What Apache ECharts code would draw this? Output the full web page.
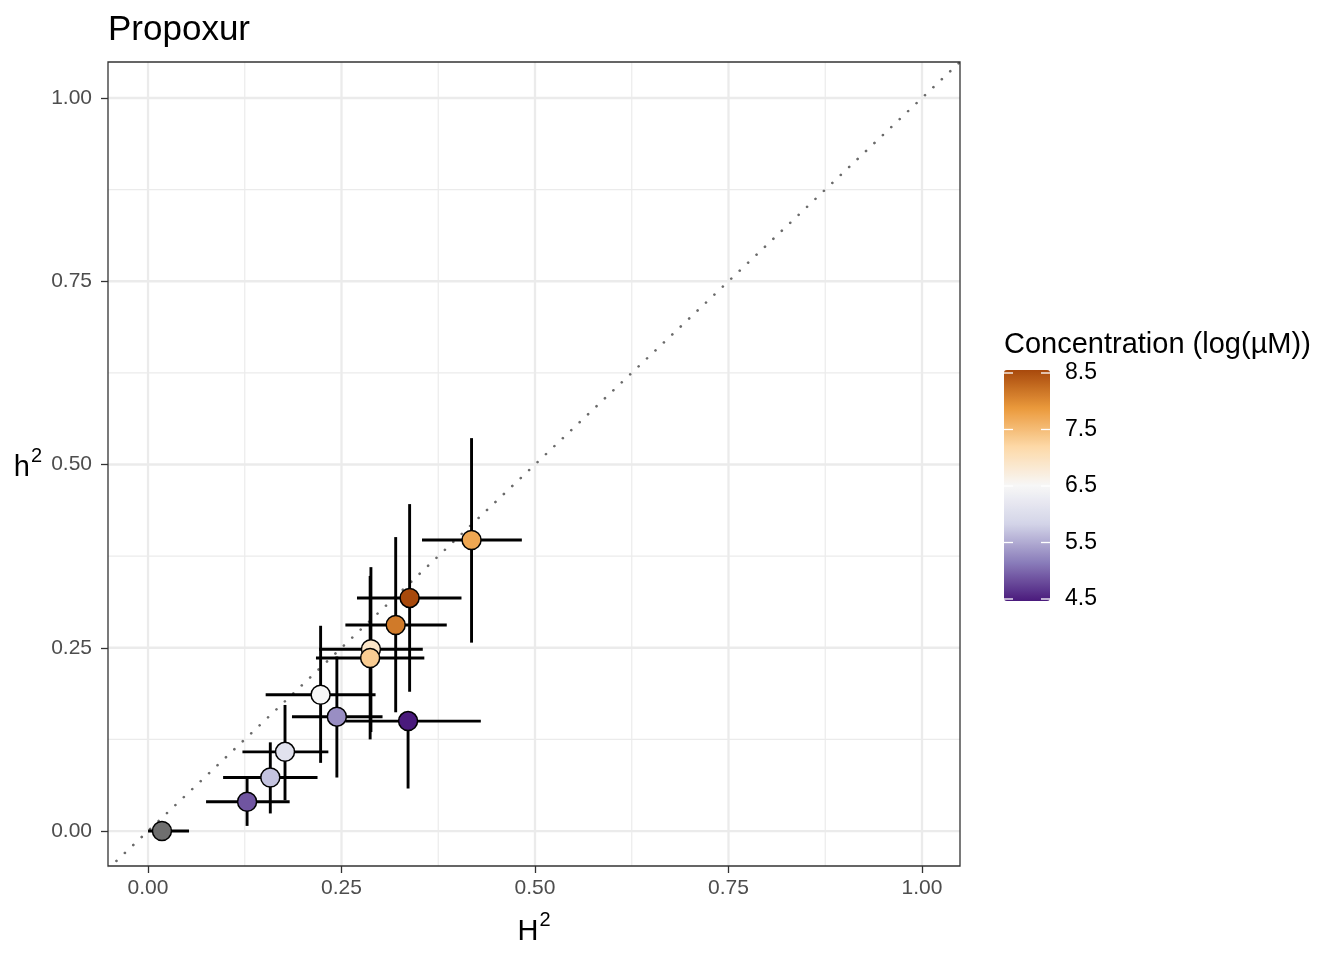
<!DOCTYPE html>
<html>
<head>
<meta charset="utf-8">
<script src="https://cdn.jsdelivr.net/npm/echarts@6/dist/echarts.min.js"></script>
<style>
  html, body { margin: 0; padding: 0; background: #fff; }
  #chart { width: 1344px; height: 960px; }
</style>
</head>
<body>
<div id="chart"></div>
<script>
// ---- data ----
const titleText = 'Propoxur';
const legendTitle = 'Concentration (log(µM))';
// broad-sense H2 (x) and narrow-sense h2 (y) with interval ends
const H2     = [0.018, 0.128, 0.158, 0.177, 0.223, 0.244, 0.336, 0.288, 0.287, 0.320, 0.338, 0.418];
const H2lo   = [0.000, 0.075, 0.097, 0.122, 0.152, 0.186, 0.255, 0.221, 0.217, 0.255, 0.270, 0.354];
const H2hi   = [0.053, 0.183, 0.219, 0.233, 0.294, 0.303, 0.430, 0.355, 0.357, 0.386, 0.405, 0.483];
const h2     = [0.000, 0.040, 0.073, 0.108, 0.186, 0.156, 0.150, 0.248, 0.236, 0.281, 0.318, 0.397];
const h2lo   = [0.000, 0.007, 0.024, 0.042, 0.093, 0.073, 0.058, 0.135, 0.125, 0.162, 0.190, 0.257];
const h2hi   = [0.000, 0.074, 0.121, 0.172, 0.280, 0.238, 0.160, 0.360, 0.348, 0.401, 0.446, 0.536];
// concentration (log µM); null = control (grey)
const conc   = [null, 4.9, 5.7, 6.1, 6.5, 5.3, 4.5, 6.9, 7.3, 8.1, 8.5, 7.7];

const axisTicks   = [0, 0.25, 0.5, 0.75, 1];
const minorTicks  = [0.125, 0.375, 0.625, 0.875];
const legendTicks = [4.5, 5.5, 6.5, 7.5, 8.5];
const concMin = 4.5, concMax = 8.5;
const paletteStops = ['#4a1a7c', '#8a7dba', '#d3d4e8', '#f7f7f7', '#fdd9a8', '#eb9a3c', '#a8490c'];

const xMin = -0.0517, xMax = 1.0491;
const yMin = -0.0477, yMax = 1.0491;

// ---- build series data ----
const FONT = "'Liberation Sans', Arial, Helvetica, sans-serif";
const errData = H2.map((v, i) => [v, h2[i], H2lo[i], H2hi[i], h2lo[i], h2hi[i]]);
const greyPts = [], colPts = [];
H2.forEach((v, i) => {
  if (conc[i] === null) greyPts.push([v, h2[i]]);
  else colPts.push([v, h2[i], conc[i]]);
});
const gridData = [];
axisTicks.forEach(v => { gridData.push([v, 0, 1]); gridData.push([v, 1, 1]); });
minorTicks.forEach(v => { gridData.push([v, 0, 0]); gridData.push([v, 1, 0]); });
const diag = [[xMin, xMin], [xMax, xMax]];
const legendTickData = legendTicks.map(v => [0, v]);

const chart = echarts.init(document.getElementById('chart'), null, { renderer: 'canvas' });

const supRich = {
  n: { fontSize: 29, lineHeight: 36, color: '#000', fontFamily: FONT, verticalAlign: 'bottom' },
  s: { fontSize: 20, lineHeight: 20, color: '#000', fontFamily: FONT, verticalAlign: 'top', padding: [0, 0, 0, 1] }
};

const option = {
  animation: false,
  backgroundColor: '#ffffff',
  textStyle: { fontFamily: FONT },
  title: {
    text: titleText, left: 103, top: 8,
    textStyle: { fontSize: 35, fontWeight: 'normal', color: '#000', fontFamily: FONT }
  },
  graphic: [{
    type: 'text', left: 1004, top: 330,
    style: { text: legendTitle, fontSize: 29, fill: '#000', fontFamily: FONT }
  }],
  grid: [
    { left: 108, top: 62, width: 852, height: 804, show: true, borderColor: '#333333', borderWidth: 1.3, backgroundColor: 'transparent', containLabel: false, outerBoundsMode: 'none', z: 5 },
    { left: 1004, top: 373, width: 46, height: 226, show: false, containLabel: false, outerBoundsMode: 'none' }
  ],
  xAxis: [
    {
      type: 'value', gridIndex: 0, min: xMin, max: xMax,
      name: '{n|H}{s|2}', nameLocation: 'middle', nameGap: 44,
      nameTextStyle: { rich: supRich },
      axisLine: { show: false, onZero: false },
      axisTick: { show: true, length: 7, lineStyle: { color: '#333', width: 1.3 }, customValues: axisTicks },
      axisLabel: { customValues: axisTicks, formatter: v => v.toFixed(2), fontSize: 21, color: '#4d4d4d', margin: 12, fontFamily: FONT },
      splitLine: { show: false }
    },
    { type: 'value', gridIndex: 1, min: 0, max: 1, show: false }
  ],
  yAxis: [
    {
      type: 'value', gridIndex: 0, min: yMin, max: yMax,
      name: '{n|h}{s|2}', nameLocation: 'middle', nameGap: 66, nameRotate: 0,
      nameTextStyle: { rich: supRich },
      axisLine: { show: false, onZero: false },
      axisTick: { show: true, length: 7, lineStyle: { color: '#333', width: 1.3 }, customValues: axisTicks },
      axisLabel: { customValues: axisTicks, formatter: v => v.toFixed(2), fontSize: 21, color: '#4d4d4d', margin: 16, fontFamily: FONT },
      splitLine: { show: false }
    },
    {
      type: 'value', gridIndex: 1, min: concMin, max: concMax, position: 'right',
      axisLine: { show: false, onZero: false },
      axisTick: { show: false },
      axisLabel: { customValues: legendTicks, formatter: v => v.toFixed(1), fontSize: 23, color: '#000', margin: 15, fontFamily: FONT, padding: [4, 0, 0, 0] },
      splitLine: { show: false }
    }
  ],
  visualMap: [{
    type: 'continuous', min: concMin, max: concMax, dimension: 2, seriesIndex: 4,
    inRange: { color: paletteStops },
    calculable: false, showLabel: false, hoverLink: false,
    itemWidth: 46, itemHeight: 231, left: 1004, top: 370, padding: 0, orient: 'vertical'
  }],
  series: [
    {
      type: 'custom', name: 'grid', xAxisIndex: 0, yAxisIndex: 0, z: 0, silent: true,
      data: gridData,
      renderItem: (params, api) => {
        const v = api.value(0), dir = api.value(1), major = api.value(2);
        const p1 = dir === 0 ? api.coord([v, yMin]) : api.coord([xMin, v]);
        const p2 = dir === 0 ? api.coord([v, yMax]) : api.coord([xMax, v]);
        return {
          type: 'line',
          shape: { x1: p1[0], y1: p1[1], x2: p2[0], y2: p2[1] },
          style: { stroke: '#ebebeb', lineWidth: major ? 2.3 : 1.2 }
        };
      }
    },
    {
      type: 'line', name: 'diag', xAxisIndex: 0, yAxisIndex: 0, z: 1, silent: true,
      data: diag, showSymbol: false, symbol: 'none', clip: true,
      lineStyle: { color: '#6a6a6a', width: 2.6, type: [0.1, 11.5], cap: 'round' }
    },
    {
      type: 'custom', name: 'errors', xAxisIndex: 0, yAxisIndex: 0, z: 2, silent: true,
      data: errData,
      renderItem: (params, api) => {
        const c = api.coord([api.value(0), api.value(1)]);
        const xl = api.coord([api.value(2), api.value(1)]);
        const xr = api.coord([api.value(3), api.value(1)]);
        const yl = api.coord([api.value(0), api.value(4)]);
        const yh = api.coord([api.value(0), api.value(5)]);
        const st = { stroke: '#000', lineWidth: 2.9 };
        return {
          type: 'group',
          children: [
            { type: 'line', shape: { x1: xl[0], y1: c[1], x2: xr[0], y2: c[1] }, style: st },
            { type: 'line', shape: { x1: c[0], y1: yl[1], x2: c[0], y2: yh[1] }, style: st }
          ]
        };
      }
    },
    {
      type: 'scatter', name: 'control', xAxisIndex: 0, yAxisIndex: 0, z: 3,
      data: greyPts, symbolSize: 19,
      itemStyle: { color: '#6f6f6f', borderColor: '#000', borderWidth: 1.5, opacity: 1 }
    },
    {
      type: 'scatter', name: 'conc', xAxisIndex: 0, yAxisIndex: 0, z: 3,
      data: colPts, symbolSize: 19,
      itemStyle: { borderColor: '#000', borderWidth: 1.5, opacity: 1 }
    },
    {
      type: 'custom', name: 'legendTicks', xAxisIndex: 1, yAxisIndex: 1, z: 20, silent: true,
      data: legendTickData,
      renderItem: (params, api) => {
        const l = api.coord([0, api.value(1)]);
        const r = api.coord([1, api.value(1)]);
        const st = { stroke: '#ffffff', lineWidth: 1.3 };
        return {
          type: 'group',
          children: [
            { type: 'line', shape: { x1: l[0], y1: l[1], x2: l[0] + 9, y2: l[1] }, style: st },
            { type: 'line', shape: { x1: r[0] - 9, y1: r[1], x2: r[0], y2: r[1] }, style: st }
          ]
        };
      }
    }
  ]
};
chart.setOption(option);
</script>
</body>
</html>
